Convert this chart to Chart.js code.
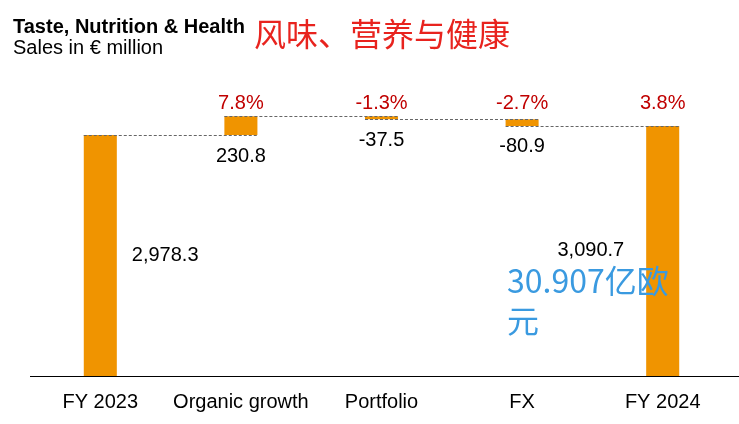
<!DOCTYPE html>
<html>
<head>
<meta charset="utf-8">
<script src="https://cdn.jsdelivr.net/npm/chart.js@4.4.0/dist/chart.umd.min.js"></script>
<style>
  body { margin: 0; background: #fff; }
  #wrap { position: relative; width: 739px; height: 424px; }
  #wrap canvas { position: absolute; left: 0; top: 0; }
  .note { position: absolute; white-space: nowrap; }
  #title { left: 13px; top: 15px; font: bold 20px "Liberation Sans", Arial, sans-serif; line-height: 22px; color: #000; }
  #subtitle { left: 13px; top: 36px; font: 20px "Liberation Sans", Arial, sans-serif; line-height: 22px; color: #000; }
  #titleCn { left: 254px; top: 13px; font: 32px "Noto Sans CJK SC", sans-serif; line-height: 38px; color: #e8231e; }
  #amountCn { left: 507px; top: 259px; font: 32px "Noto Sans CJK SC", sans-serif; line-height: 40px; color: #3a9ae0; }
</style>
</head>
<body>
<div id="wrap">
  <canvas id="bridgeChart" width="739" height="424"></canvas>
  <div class="note" id="title">Taste, Nutrition &amp; Health</div>
  <div class="note" id="subtitle">Sales in € million</div>
  <div class="note" id="titleCn">风味、营养与健康</div>
  <div class="note" id="amountCn">30.907亿欧<br>元</div>
</div>
<script>
// ========================================
// Sales bridge FY 2023 -> FY 2024
// ========================================
const CATEGORIES = ["FY 2023", "Organic growth", "Portfolio", "FX", "FY 2024"];
const START_VALUE = 2978.3;
const CHANGES = [230.8, -37.5, -80.9];
const END_VALUE = 3090.7;
const VALUE_LABELS = ["2,978.3", "230.8", "-37.5", "-80.9", "3,090.7"];
const PCT_LABELS = ["", "7.8%", "-1.3%", "-2.7%", "3.8%"];

const BAR_COLOR = "#f09400";
const FONT = '"Liberation Sans", Arial, sans-serif';

// Build floating ranges from the running total
const ranges = [[0, START_VALUE]];
const levels = [START_VALUE];
let running = START_VALUE;
CHANGES.forEach(c => {
  ranges.push([running, running + c]);
  running += c;
  levels.push(running);
});
ranges.push([0, END_VALUE]);

// Connectors, labels and the long baseline
const bridgeLabels = {
  id: "bridgeLabels",
  afterDatasetsDraw(chart) {
    const { ctx, chartArea } = chart;
    const y = chart.scales.y;
    const bars = chart.getDatasetMeta(0).data;

    ctx.save();
    // dashed connectors: left of bar i -> right of bar i+1
    ctx.strokeStyle = "#666";
    ctx.lineWidth = 1;
    ctx.setLineDash([3, 2]);
    levels.forEach((lv, i) => {
      const a = bars[i], b = bars[i + 1];
      const py = Math.round(y.getPixelForValue(lv)) + 0.5;
      ctx.beginPath();
      ctx.moveTo(a.x - a.width / 2, py);
      ctx.lineTo(b.x + b.width / 2, py);
      ctx.stroke();
    });
    ctx.setLineDash([]);

    // baseline runs to the right edge
    ctx.strokeStyle = "#000";
    ctx.beginPath();
    ctx.moveTo(chartArea.right, Math.round(chartArea.bottom) + 0.5);
    ctx.lineTo(chart.width, Math.round(chartArea.bottom) + 0.5);
    ctx.stroke();

    ctx.font = "20px " + FONT;
    ctx.textBaseline = "middle";

    // growth percentages
    ctx.fillStyle = "#c00000";
    ctx.textAlign = "center";
    PCT_LABELS.forEach((t, i) => {
      if (t) ctx.fillText(t, bars[i].x, chartArea.top + 35);
    });

    // values
    ctx.fillStyle = "#000";
    bars.forEach((bar, i) => {
      const top = Math.min(bar.y, bar.base);
      const bottom = Math.max(bar.y, bar.base);
      if (i === 0) {
        ctx.textAlign = "left";
        ctx.fillText(VALUE_LABELS[i], bar.x + bar.width / 2 + 15, (top + bottom) / 2);
      } else if (i === bars.length - 1) {
        ctx.textAlign = "right";
        ctx.fillText(VALUE_LABELS[i], bar.x - bar.width / 2 - 22, (top + bottom) / 2);
      } else {
        ctx.textAlign = "center";
        ctx.fillText(VALUE_LABELS[i], bar.x, bottom + 21);
      }
    });
    ctx.restore();
  }
};

new Chart(document.getElementById("bridgeChart"), {
  type: "bar",
  data: {
    labels: CATEGORIES,
    datasets: [{
      data: ranges,
      backgroundColor: BAR_COLOR,
      borderWidth: 0,
      barPercentage: 0.235,
      categoryPercentage: 1
    }]
  },
  options: {
    responsive: false,
    animation: false,
    layout: { padding: { top: 68.5, left: 30, right: 6, bottom: 0 } },
    plugins: {
      legend: { display: false },
      tooltip: { enabled: false }
    },
    scales: {
      x: {
        grid: { display: false, drawTicks: false },
        border: { display: true, color: "#000", width: 1 },
        ticks: {
          color: "#000",
          padding: 14,
          maxRotation: 0,
          minRotation: 0,
          autoSkip: false,
          font: { family: FONT, size: 20 }
        },
        afterFit(scale) { scale.height = 48; }
      },
      y: {
        display: false,
        min: 0,
        max: 3800
      }
    }
  },
  plugins: [bridgeLabels]
});
</script>
</body>
</html>
